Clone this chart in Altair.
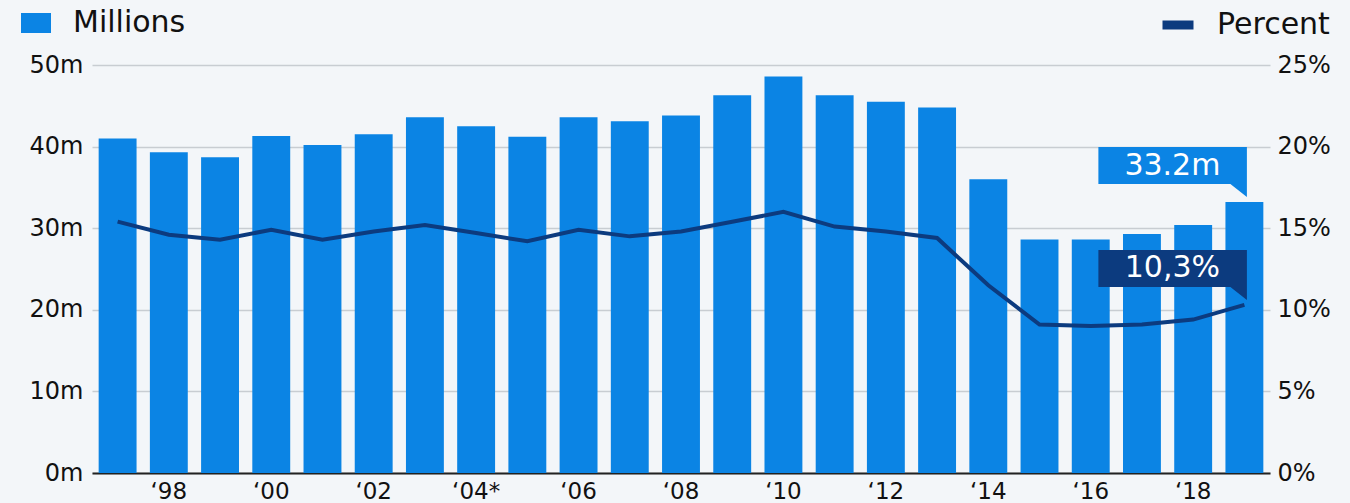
import altair as alt
import pandas as pd

# Yearly figures: absolute value (millions) and share (percent)
years = [str(y) for y in range(1997, 2020)]
millions = [41.0, 39.3, 38.7, 41.3, 40.2, 41.5, 43.6, 42.5, 41.2, 43.6, 43.1, 43.8,
            46.3, 48.6, 46.3, 45.5, 44.8, 36.0, 28.6, 28.6, 29.3, 30.4, 33.2]
percent = [15.4, 14.6, 14.3, 14.9, 14.3, 14.8, 15.2, 14.7, 14.2, 14.9, 14.5, 14.8,
           15.4, 16.0, 15.1, 14.8, 14.4, 11.5, 9.1, 9.0, 9.1, 9.4, 10.3]

# Labelled years on the x axis
label_years = ["1998", "2000", "2002", "2004", "2006", "2008", "2010", "2012",
               "2014", "2016", "2018"]
tick_labels = ["‘98", "‘00", "‘02", "‘04*", "‘06", "‘08", "‘10", "‘12",
               "‘14", "‘16", "‘18"]

BLUE = "#0b84e4"
NAVY = "#0c3b7f"
FONT = "DejaVu Sans"

df = pd.DataFrame({"year": years, "millions": millions, "percent": percent})

label_expr = "".join(f"datum.value == '{y}' ? '{t}' : " for y, t in zip(label_years, tick_labels)) + "''"

x_enc = alt.X(
    "year:O",
    title=None,
    scale=alt.Scale(paddingInner=0.26, paddingOuter=0.13),
    axis=alt.Axis(values=label_years, labelExpr=label_expr, labelAngle=0,
                  ticks=False, labelFontSize=23, labelPadding=7,
                  domainColor="#222222", domainWidth=2, labelColor="#111111"),
)

y_m = alt.Y(
    "millions:Q",
    title=None,
    scale=alt.Scale(domain=[0, 50], nice=False),
    axis=alt.Axis(values=[0, 10, 20, 30, 40, 50], labelExpr="datum.value + 'm'",
                  orient="left", domain=False, ticks=False, labelFontSize=24,
                  labelPadding=9, grid=True, gridColor="#c8cdd2", gridWidth=1.5,
                  labelColor="#111111"),
)

y_p = alt.Y(
    "percent:Q",
    title=None,
    scale=alt.Scale(domain=[0, 25], nice=False),
    axis=alt.Axis(values=[0, 5, 10, 15, 20, 25], labelExpr="datum.value + '%'",
                  orient="right", domain=False, ticks=False, labelFontSize=24,
                  labelPadding=7, grid=False, labelColor="#111111"),
)

base = alt.Chart(df)

bars = base.transform_calculate(series="'Millions'").mark_bar().encode(
    x=x_enc,
    y=y_m,
    color=alt.Color(
        "series:N",
        scale=alt.Scale(domain=["Millions"], range=[BLUE]),
        legend=alt.Legend(orient="none", legendX=-71, legendY=-57, title=None,
                          symbolType="M-1.5,-1H1.5V1H-1.5Z", symbolSize=400,
                          labelOffset=22, labelFontSize=30, labelFont=FONT,
                          labelColor="#111111", padding=0, symbolOpacity=1),
    ),
)

line = base.transform_calculate(series2="'Percent'").mark_line(strokeWidth=4).encode(
    x=x_enc,
    y=y_p,
    stroke=alt.Stroke(
        "series2:N",
        scale=alt.Scale(domain=["Percent"], range=[NAVY]),
        legend=alt.Legend(orient="none", legendX=1066, legendY=-60, title=None,
                          symbolType="stroke", symbolSize=961, symbolStrokeWidth=9,
                          labelOffset=19, labelFontSize=30, labelFont=FONT,
                          labelColor="#111111", padding=0),
    ),
)

# Callout boxes anchored to the last data point
callout = "M-146,-55H2.5V-5L-14,-18H-146Z"
last = base.transform_filter(alt.datum.year == years[-1])

box_m = last.mark_point(shape=callout, size=4, filled=True, opacity=1,
                        strokeWidth=0, color=BLUE).encode(x=x_enc, y=y_m)
txt_m = last.transform_calculate(
    lbl="format(datum.millions, '.1f') + 'm'"
).mark_text(color="white", fontSize=30, font=FONT, dx=-72, dy=-36.5,
            baseline="middle", align="center").encode(x=x_enc, y=y_m, text="lbl:N")

box_p = last.mark_point(shape=callout, size=4, filled=True, opacity=1,
                        strokeWidth=0, color=NAVY).encode(x=x_enc, y=y_p)
txt_p = last.transform_calculate(
    lbl="replace(format(datum.percent, '.1f'), '.', ',') + '%'"
).mark_text(color="white", fontSize=30, font=FONT, dx=-72, dy=-36.5,
            baseline="middle", align="center").encode(x=x_enc, y=y_p, text="lbl:N")

left = alt.layer(bars, box_m, txt_m)
right = alt.layer(line, box_p, txt_p)

chart = alt.layer(left, right).resolve_scale(
    y="independent", color="independent", stroke="independent"
).properties(
    width=1178,
    height=408,
    padding={"left": 92, "top": 65, "right": 80, "bottom": 30},
    autosize=alt.AutoSizeParams(type="none"),
    background="#f3f6f9",
).configure_view(stroke=None).configure_axis(labelFont=FONT)

chart.save("out.html", embed_options={"renderer": "svg", "actions": False})
